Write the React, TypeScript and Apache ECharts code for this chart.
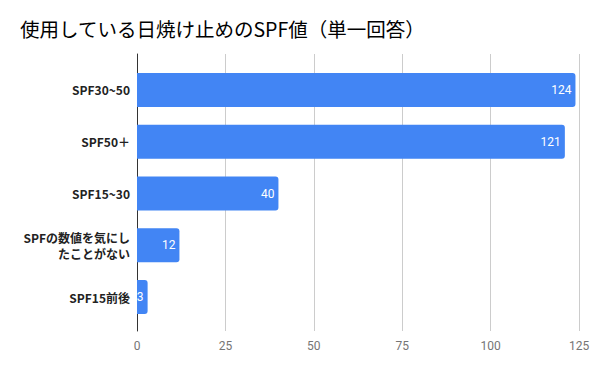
import React, { useEffect, useRef } from "react";
import * as echarts from "echarts";

const TITLE = "使用している日焼け止めのSPF値（単一回答）";
const categories = [
  "SPF30~50",
  "SPF50＋",
  "SPF15~30",
  "SPFの数値を気にし\nたことがない",
  "SPF15前後",
];
const values = [124, 121, 40, 12, 3];
const xMin = 0;
const xMax = 125;
const xInterval = 25;

export default function App() {
  const ref = useRef<HTMLDivElement>(null);
  useEffect(() => {
    if (!ref.current) return;
    const chart = echarts.init(ref.current, null, { renderer: "svg" });
    chart.setOption({
      animation: false,
      backgroundColor: "#ffffff",
      title: {
        text: TITLE,
        left: 15,
        top: 14,
        textStyle: {
          fontSize: 19.5,
          fontWeight: "normal",
          color: "#000000",
          fontFamily: "Noto Sans CJK JP",
        },
      },
      grid: [
        { left: 137, right: 21, top: 64, bottom: 48 },
        { left: 137, right: 21, top: 54, bottom: 40 },
      ],
      xAxis: [
        {
          type: "value",
          gridIndex: 0,
          min: xMin,
          max: xMax,
          interval: xInterval,
          show: false,
        },
        {
          type: "value",
          gridIndex: 1,
          min: xMin,
          max: xMax,
          interval: xInterval,
          axisLine: { show: false },
          axisTick: { show: false },
          splitLine: { show: true, lineStyle: { color: "#cccccc", width: 1 } },
          axisLabel: {
            color: "#757575",
            fontSize: 12,
            fontFamily: "Roboto",
            margin: 9,
          },
        },
      ],
      yAxis: [
        {
          type: "category",
          gridIndex: 0,
          data: categories,
          inverse: true,
          axisLine: { show: false },
          axisTick: { show: false },
          axisLabel: {
            color: "#222222",
            fontSize: 12,
            fontWeight: "bold",
            fontFamily: "Noto Sans CJK JP",
            margin: 7,
            lineHeight: 16,
            align: "right",
          },
        },
        {
          type: "value",
          gridIndex: 1,
          min: 0,
          max: 1,
          axisLabel: { show: false },
          axisTick: { show: false },
          splitLine: { show: false },
          axisLine: { show: true, lineStyle: { color: "#333333", width: 1 } },
        },
      ],
      series: [
        {
          type: "bar",
          xAxisIndex: 0,
          yAxisIndex: 0,
          data: values,
          barWidth: 34,
          itemStyle: { color: "#4285f4", borderRadius: [0, 3, 3, 0] },
          label: {
            show: true,
            position: "insideRight",
            distance: 4,
            color: "#ffffff",
            fontSize: 12,
            fontFamily: "Roboto",
          },
          z: 5,
        },
      ],
    });
    return () => chart.dispose();
  }, []);
  return <div ref={ref} style={{ width: 600, height: 371, position: "absolute", left: 0, top: 0 }} />;
}
